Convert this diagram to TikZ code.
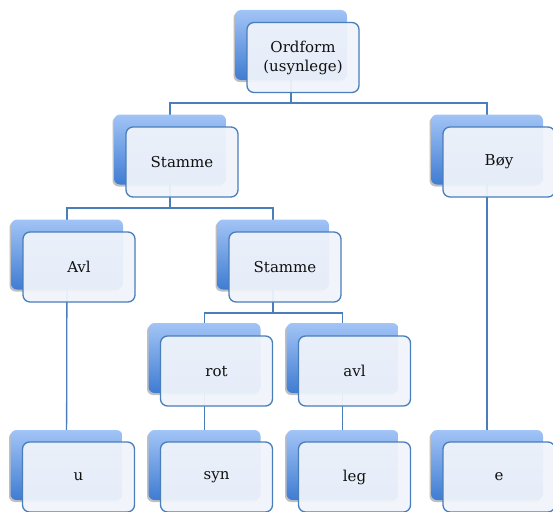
\documentclass[tikz,border=0pt]{standalone}
\usepackage{fontspec}
\setmainfont{DejaVu Serif}
\usetikzlibrary{shadows}
\definecolor{backtop}{HTML}{A2C4F6}
\definecolor{backbot}{HTML}{3F7CD2}
\definecolor{frontfill}{HTML}{F0F4FB}
\definecolor{lineblue}{HTML}{4A7EBB}
\definecolor{txt}{HTML}{111111}
\pgfdeclarelayer{bg}
\pgfsetlayers{bg,main}
\tikzset{
  backbox/.style={rectangle, rounded corners=6pt, minimum width=112pt, minimum height=70pt,
    top color=backtop, bottom color=backbot, draw=none,
    drop shadow={shadow xshift=-1.5pt, shadow yshift=-2pt, opacity=0.25, fill=black}},
  frontbox/.style={rectangle, rounded corners=7pt, minimum width=112pt, minimum height=70pt,
    draw=lineblue, line width=1.3pt, fill=frontfill, fill opacity=0.94, text opacity=1,
    text=txt, font=\fontsize{15}{19}\selectfont, align=center, inner sep=2pt},
  conn/.style={draw=lineblue, line width=1.3pt}
}
\begin{document}
\begin{tikzpicture}[x=1pt,y=-1pt]
\useasboundingbox (0,0) rectangle (553,511);
% level 0
\node[backbox] (b0) at (291,45) {};
\node[frontbox] (f0) at (303,57.5) {Ordform\\(usynlege)};
% level 1
\node[backbox] (b1) at (170,149.5) {};
\node[frontbox] (f1) at (182,162) {Stamme};
\node[backbox] (b2) at (487,149.5) {};
\node[frontbox] (f2) at (499,162) {Bøy};
% level 2
\node[backbox] (b3) at (67,254.5) {};
\node[frontbox] (f3) at (79,267) {Avl};
\node[backbox] (b4) at (273,254.5) {};
\node[frontbox] (f4) at (285,267) {Stamme};
% level 3
\node[backbox] (b5) at (204.5,358) {};
\node[frontbox] (f5) at (216.5,371) {rot};
\node[backbox] (b6) at (342.5,358) {};
\node[frontbox] (f6) at (354.5,371) {avl};
% level 4
\node[backbox] (b7) at (66.5,465) {};
\node[frontbox] (f7) at (78.5,477) {u};
\node[backbox] (b8) at (204.5,465) {};
\node[frontbox] (f8) at (216.5,477) {syn};
\node[backbox] (b9) at (342.5,465) {};
\node[frontbox] (f9) at (354.5,477) {leg};
\node[backbox] (b10) at (487,465) {};
\node[frontbox] (f10) at (499,477) {e};
% junctions
\coordinate (j0) at (291,103);
\coordinate (j1) at (170,208);
\coordinate (j4) at (273,313);
\begin{pgfonlayer}{bg}
\draw[conn] (b0.center) -- (b0.center |- j0) -| (b1.center);
\draw[conn] (b0.center |- j0) -| (b2.center);
\draw[conn] (b1.center) -- (b1.center |- j1) -| (b3.center);
\draw[conn] (b1.center |- j1) -| (b4.center);
\draw[conn] (b4.center) -- (b4.center |- j4) -| (b5.center);
\draw[conn] (b4.center |- j4) -| (b6.center);
\draw[conn] (b3.center) -- (b7.center);
\draw[conn] (b5.center) -- (b8.center);
\draw[conn] (b6.center) -- (b9.center);
\draw[conn] (b2.center) -- (b10.center);
\end{pgfonlayer}
\end{tikzpicture}
\end{document}
